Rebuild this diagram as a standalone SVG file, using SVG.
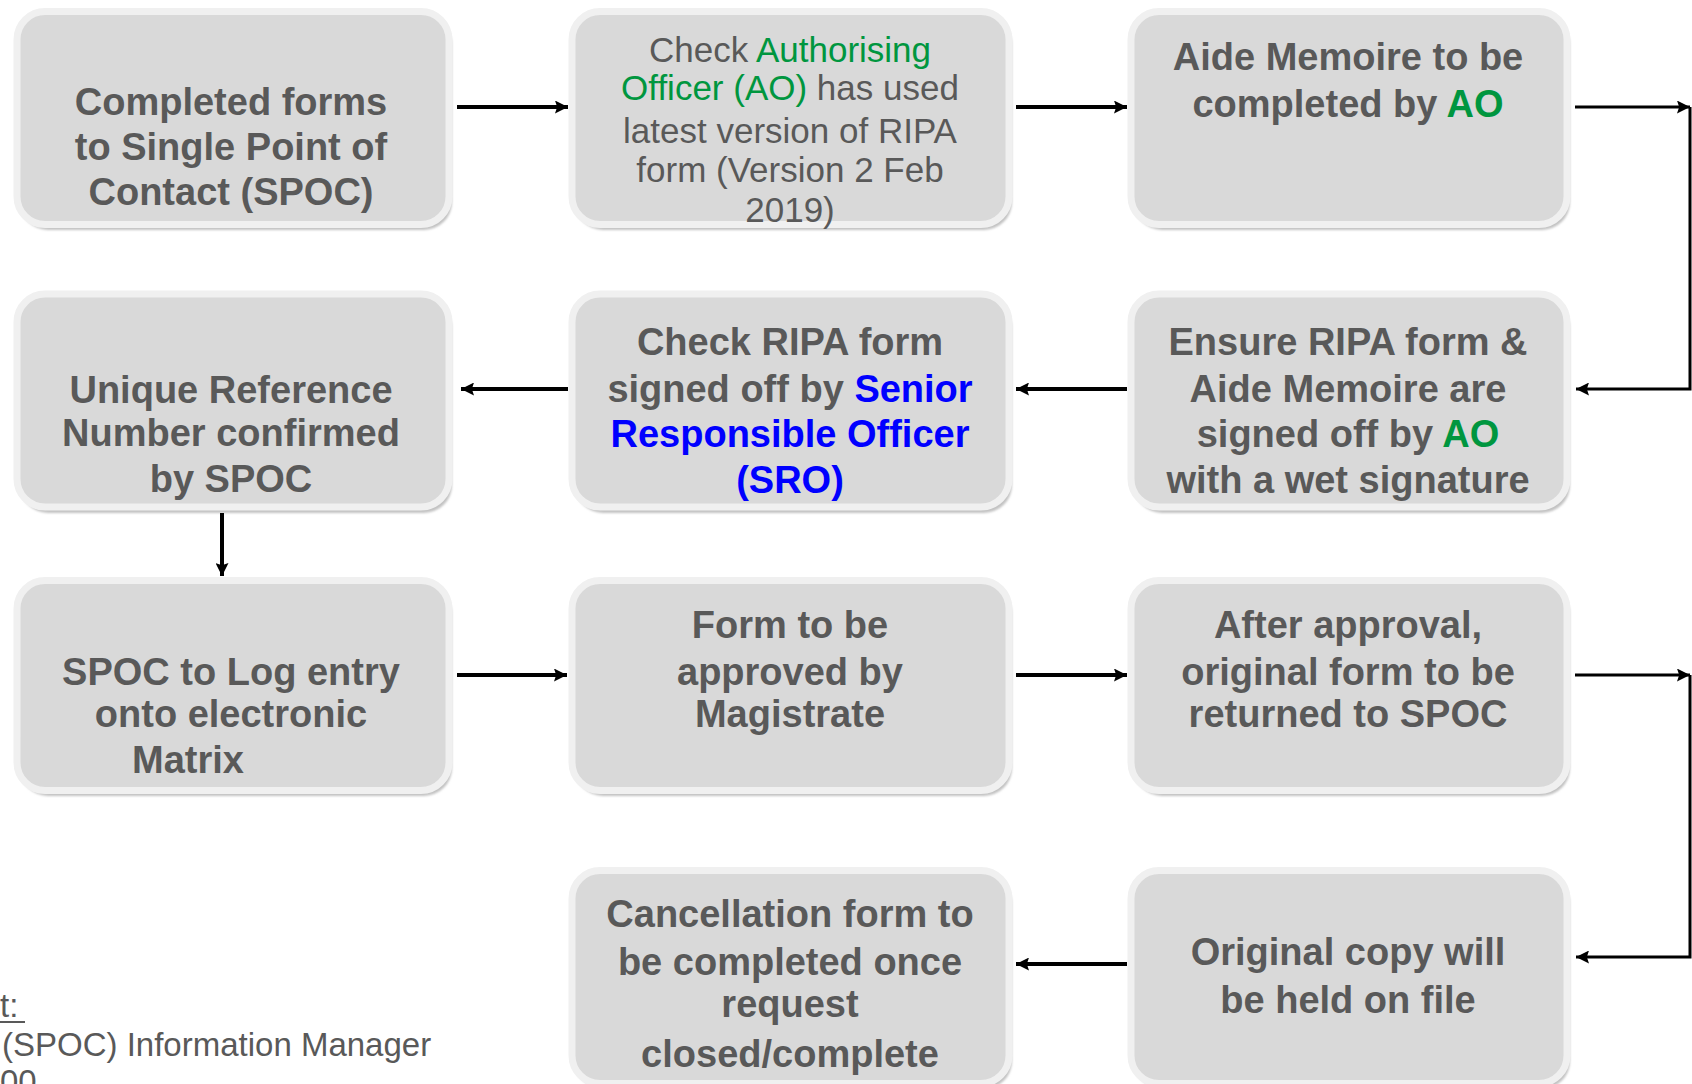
<svg xmlns="http://www.w3.org/2000/svg" width="1692" height="1084" viewBox="0 0 1692 1084">
<style>
.box{fill:#d9d9d9;stroke:#f0f0f0;stroke-width:7}
.sh{fill:#c2c2c2;filter:url(#blur)}
.t{font-family:"Liberation Sans",Arial,sans-serif;font-size:38px;font-weight:bold;fill:#595959;text-anchor:middle}
.r{font-family:"Liberation Sans",Arial,sans-serif;font-size:35px;fill:#595959;text-anchor:middle}
.g{fill:#00963f}
.b{fill:#0000ff}
.c{fill:none;stroke:#000;stroke-width:4}
.c3{fill:none;stroke:#000;stroke-width:3}
.note{font-family:"Liberation Sans",Arial,sans-serif;font-size:33px;fill:#595959}
</style>
<defs>
<filter id="blur" x="-5%" y="-5%" width="110%" height="110%"><feGaussianBlur stdDeviation="1.2"/></filter>
<marker id="ah" viewBox="0 0 12 12" refX="12" refY="6" markerUnits="userSpaceOnUse" markerWidth="13" markerHeight="13" orient="auto">
<path d="M0,0 L12,6 L0,12 L2,6 z" fill="#000"/>
</marker>
</defs>
<rect width="1692" height="1084" fill="#fff"/>

<g id="n1">
<rect class="sh" x="20" y="17" width="432" height="213" rx="28"/>
<rect class="box" x="17" y="11.5" width="432" height="213" rx="28"/>
<text class="t" x="231" y="115">Completed forms</text>
<text class="t" x="231" y="160">to Single Point of</text>
<text class="t" x="231" y="205">Contact (SPOC)</text>
</g>

<g id="n2">
<rect class="sh" x="575" y="17" width="437" height="213" rx="28"/>
<rect class="box" x="572" y="11.5" width="437" height="213" rx="28"/>
<text class="r" x="790" y="62">Check <tspan class="g">Authorising</tspan></text>
<text class="r" x="790" y="100"><tspan class="g">Officer (AO)</tspan> has used</text>
<text class="r" x="790" y="143">latest version of RIPA</text>
<text class="r" x="790" y="182">form (Version 2 Feb</text>
<text class="r" x="790" y="222">2019)</text>
</g>

<g id="n3">
<rect class="sh" x="1134" y="17" width="436" height="213" rx="28"/>
<rect class="box" x="1131" y="11.5" width="436" height="213" rx="28"/>
<text class="t" x="1348" y="70">Aide Memoire to be</text>
<text class="t" x="1348" y="117">completed by <tspan class="g">AO</tspan></text>
</g>

<g id="n4">
<rect class="sh" x="20" y="300" width="432" height="213" rx="28"/>
<rect class="box" x="17" y="294" width="432" height="213" rx="28"/>
<text class="t" x="231" y="403">Unique Reference</text>
<text class="t" x="231" y="446">Number confirmed</text>
<text class="t" x="231" y="492">by SPOC</text>
</g>

<g id="n5">
<rect class="sh" x="575" y="300" width="437" height="213" rx="28"/>
<rect class="box" x="572" y="294" width="437" height="213" rx="28"/>
<text class="t" x="790" y="355">Check RIPA form</text>
<text class="t" x="790" y="402">signed off by <tspan class="b">Senior</tspan></text>
<text class="t b" x="790" y="447">Responsible Officer</text>
<text class="t b" x="790" y="493">(SRO)</text>
</g>

<g id="n6">
<rect class="sh" x="1134" y="300" width="436" height="213" rx="28"/>
<rect class="box" x="1131" y="294" width="436" height="213" rx="28"/>
<text class="t" x="1348" y="355">Ensure RIPA form &amp;</text>
<text class="t" x="1348" y="402">Aide Memoire are</text>
<text class="t" x="1348" y="447">signed off by <tspan class="g">AO</tspan></text>
<text class="t" x="1348" y="493">with a wet signature</text>
</g>

<g id="n7">
<rect class="sh" x="20" y="586" width="432" height="210" rx="28"/>
<rect class="box" x="17" y="580.5" width="432" height="210" rx="28"/>
<text class="t" x="231" y="685">SPOC to Log entry</text>
<text class="t" x="231" y="727">onto electronic</text>
<text class="t" x="188" y="773">Matrix</text>
</g>

<g id="n8">
<rect class="sh" x="575" y="586" width="437" height="210" rx="28"/>
<rect class="box" x="572" y="580.5" width="437" height="210" rx="28"/>
<text class="t" x="790" y="638">Form to be</text>
<text class="t" x="790" y="685">approved by</text>
<text class="t" x="790" y="727">Magistrate</text>
</g>

<g id="n9">
<rect class="sh" x="1134" y="586" width="436" height="210" rx="28"/>
<rect class="box" x="1131" y="580.5" width="436" height="210" rx="28"/>
<text class="t" x="1348" y="638">After approval,</text>
<text class="t" x="1348" y="685">original form to be</text>
<text class="t" x="1348" y="727">returned to SPOC</text>
</g>

<g id="n10">
<rect class="sh" x="1134" y="876" width="436" height="213" rx="28"/>
<rect class="box" x="1131" y="870.5" width="436" height="213" rx="28"/>
<text class="t" x="1348" y="965">Original copy will</text>
<text class="t" x="1348" y="1013">be held on file</text>
</g>

<g id="n11">
<rect class="sh" x="575" y="876" width="437" height="213" rx="28"/>
<rect class="box" x="572" y="870.5" width="437" height="213" rx="28"/>
<text class="t" x="790" y="927">Cancellation form to</text>
<text class="t" x="790" y="975">be completed once</text>
<text class="t" x="790" y="1017">request</text>
<text class="t" x="790" y="1067">closed/complete</text>
</g>

<g id="connectors">
<path class="c" d="M457,107 H568" marker-end="url(#ah)"/>
<path class="c" d="M1016,107 H1127" marker-end="url(#ah)"/>
<path class="c3" d="M1575,107 H1690" marker-end="url(#ah)"/>
<path class="c3" d="M1690,107 V389 H1576" marker-end="url(#ah)"/>
<path class="c" d="M1127,389 H1016" marker-end="url(#ah)"/>
<path class="c" d="M568,389 H461" marker-end="url(#ah)"/>
<path class="c" d="M222,513 V576" marker-end="url(#ah)"/>
<path class="c" d="M457,675 H567" marker-end="url(#ah)"/>
<path class="c" d="M1016,675 H1127" marker-end="url(#ah)"/>
<path class="c3" d="M1575,675 H1690" marker-end="url(#ah)"/>
<path class="c3" d="M1690,675 V957 H1576" marker-end="url(#ah)"/>
<path class="c" d="M1127,964 H1016" marker-end="url(#ah)"/>
</g>

<g id="note">
<text class="note" x="0" y="1017">t:</text>
<line x1="0" y1="1022" x2="25" y2="1022" stroke="#595959" stroke-width="2"/>
<text class="note" x="2" y="1056">(SPOC) Information Manager</text>
<text class="note" x="0" y="1093">00</text>
</g>
</svg>
